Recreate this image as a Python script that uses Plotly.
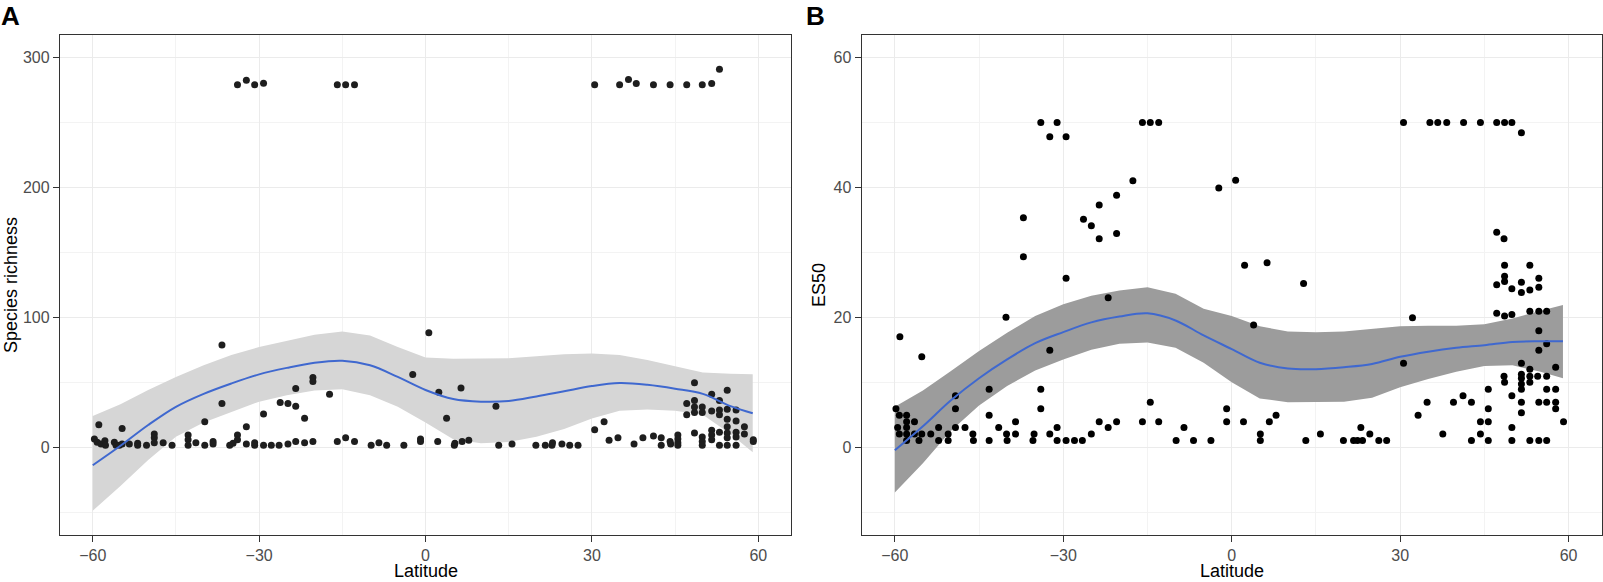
import plotly.graph_objects as go

# ---------------- data: panel A (species richness) ----------------
a_lat = [-33.9, -32.3, -30.8, -29.2, -15.9, -14.4, -12.8, 30.5, 35.0, 36.6, 38.0, 41.1, 44.1, 47.1, 49.9, 51.6, 53.0,
         -59.7, -58.9, -59.2, -58.5, -57.8, -57.7, -56.1, -55.8, -55.2, -54.7, -54.7, -53.4, -51.9, -51.9, -50.3,
         -48.9, -48.9, -48.9, -47.3, -45.7, -42.8, -42.8, -42.8, -41.4, -39.8, -39.8, -38.3, -38.3, -36.7, -36.7,
         -35.3, -34.7, -33.9, -33.9, -32.3, -32.3, -30.8, -30.8, -29.2, -29.2, -27.8, -26.4, -26.2, -24.8, -24.8,
         -23.4, -23.4, -23.4, -21.8, -21.8, -20.3, -20.3, -20.3, -17.3, -15.9, -14.4, -12.8, -9.8, -8.4, -7.0,
         -3.9, -2.3, -0.9, -0.9, 0.6, 2.2, 2.4, 3.8, 5.2, 5.3, 6.4, 6.6, 7.8, 12.7, 13.2, 15.6, 19.9, 21.6, 22.8,
         22.9, 24.6, 26.0, 27.5, 30.5, 32.2, 33.1, 34.7, 37.6, 39.2, 41.1, 42.5, 42.5, 44.1, 44.2, 45.5, 45.5,
         45.5, 45.5, 47.1, 47.1, 48.5, 48.5, 48.5, 48.5, 48.5, 49.9, 49.9, 49.9, 49.9, 49.9, 51.6, 51.6, 51.6,
         51.6, 51.6, 53.0, 53.0, 53.0, 53.0, 53.0, 54.4, 54.4, 54.4, 54.4, 54.4, 54.4, 54.4, 56.0, 56.0, 56.0,
         56.0, 56.0, 57.5, 57.5, 59.1, 59.1]
a_rich = [279, 282.4, 279, 280.2, 279, 279, 279, 279, 279, 283, 280, 279, 279, 279, 279, 280, 291,
          6.3, 17.2, 3.7, 2.3, 4.9, 1.4, 3.7, 1.4, 1.4, 14.3, 2.3, 2.3, 2.9, 1.4, 1.4,
          10.0, 7.2, 3.4, 3.4, 1.4, 9.4, 5.7, 1.4, 3.4, 19.5, 1.4, 4.3, 2.3, 78.7, 33.5,
          1.4, 2.9, 9.4, 5.7, 15.7, 2.3, 3.4, 1.4, 25.5, 1.4, 1.4, 1.4, 34.3, 33.5, 2.3,
          45.2, 31.5, 4.3, 22.3, 3.4, 53.5, 50.6, 4.3, 40.6, 4.3, 7.2, 4.3, 1.4, 3.4, 1.4,
          1.4, 55.8, 6.3, 4.3, 88.1, 4.3, 42.3, 22.3, 1.4, 2.9, 45.5, 4.3, 5.2, 31.5, 1.4, 2.3, 1.4, 1.4, 1.4,
          3.4, 2.3, 1.4, 1.4, 13.4, 19.5, 5.2, 7.2, 2.3, 7.2, 8.6, 7.2, 1.4, 4.3, 2.3, 9.4, 6.3,
          3.4, 1.4, 33.5, 24.9, 49.5, 35.8, 30.9, 26.6, 10.9, 30.9, 26.6, 7.7, 4.3, 1.4, 40.6, 27.8, 12.9,
          9.4, 5.7, 35.8, 28.6, 24.9, 11.4, 1.4, 43.8, 29.2, 21.5, 15.7, 10.9, 7.2, 1.4, 28.6, 20.0, 11.4,
          7.7, 1.4, 15.7, 10.0, 5.7, 4.3]

a_fit_lat = [-60, -55, -50, -45, -40, -35, -30, -25, -20, -15, -10, -5, 0, 5, 10, 15, 20, 25, 30, 35, 40, 45, 50, 55, 59]
a_fit = [-14, 1, 17, 31, 41, 49, 56, 61, 65, 66.5, 63, 54, 44, 37, 35, 35.5, 39, 43, 47, 49.3, 48, 45, 41, 31.5, 26]
a_hi = [24, 33, 44, 54, 63, 71, 77, 82, 86.5, 89, 86, 77, 69, 68, 68, 68.5, 70, 71.5, 72, 71, 67, 62, 57.5, 56.5, 56]
a_lo = [-49, -30, -10, 8, 19, 27, 35, 40, 43.5, 44.5, 40, 31, 19, 6, 3, 4, 8, 14, 22, 28, 29, 28, 25, 10, -4]

# ---------------- data: panel B (ES50) ----------------
b_lat = [-59.8, -59.1, -59.2, -59.5, -59.2, -57.9, -57.9, -57.9, -57.9, -57.9, -56.5, -56.5, -55.2, -55.2, -55.7,
         -53.6, -52.2, -52.2, -50.5, -50.5, -49.2, -49.2, -49.2, -47.5, -46.1, -46.0, -43.2, -43.2, -43.2, -41.5,
         -40.2, -40.1, -40.0, -38.5, -38.5, -37.1, -37.1, -35.4, -35.2, -34.0, -34.0, -34.0, -32.4, -32.4, -32.4,
         -31.1, -31.1, -31.1, -29.5, -29.5, -29.5, -28.0, -26.6, -26.4, -25.0, -25.0, -23.6, -23.6, -23.6, -22.0,
         -22.0, -20.5, -20.5, -20.5, -17.6, -15.9, -15.9, -14.5, -14.5, -13.0, -13.0, -9.9, -8.5, -6.8,
         -3.7, -2.3, -0.9, -0.9, 0.7, 2.1, 2.3, 3.9, 5.1, 5.1, 6.3, 6.7, 7.9, 12.8, 13.2, 15.8, 19.9, 21.7, 22.4,
         23.3, 23.0, 24.6, 26.2, 27.6, 30.6, 30.6, 32.2, 33.2, 34.8, 35.3, 36.7, 37.6, 38.3, 39.5, 41.2, 41.3,
         42.7, 42.7, 44.3, 44.3, 44.3, 45.7, 45.7, 45.7, 45.7, 47.2, 47.2, 47.2, 47.2, 48.5, 48.6, 48.6, 48.6,
         48.6, 48.5, 48.6, 48.6, 49.9, 49.9, 49.9, 49.9, 49.9, 49.9, 51.6, 51.6, 51.6, 51.6, 51.6, 51.6, 51.6,
         51.6, 51.6, 51.6, 53.1, 53.1, 53.1, 53.1, 53.1, 53.1, 53.1, 54.7, 54.7, 54.7, 54.7, 54.5, 54.7, 54.7,
         54.7, 56.1, 56.1, 56.1, 56.1, 56.1, 56.1, 57.7, 57.7, 57.7, 57.7, 59.1, 59.1]
b_es50 = [5.9, 17.0, 4.9, 3.0, 2.0, 4.9, 3.9, 3.0, 2.0, 1.0, 3.9, 2.0, 13.9, 2.0, 1.0,
          2.0, 3.0, 1.0, 2.0, 1.0, 7.9, 5.9, 3.0, 3.0, 2.0, 1.0, 8.9, 4.9, 1.0, 3.0,
          20.0, 2.0, 1.0, 3.9, 2.0, 35.3, 29.3, 1.0, 2.0, 50.0, 8.9, 5.9, 47.8, 14.9, 2.0,
          50.0, 3.0, 1.0, 47.8, 26.0, 1.0, 1.0, 1.0, 35.1, 34.1, 2.0, 37.3, 32.1, 3.9, 23.0,
          3.0, 38.8, 32.9, 3.9, 41.0, 50.0, 3.9, 50.0, 6.9, 50.0, 3.9, 1.0, 3.0, 1.0,
          1.0, 39.9, 5.9, 3.9, 41.1, 3.9, 28.0, 18.8, 2.0, 1.0, 28.4, 3.9, 4.9, 25.2, 1.0, 2.0, 1.0, 1.0, 1.0,
          1.0, 3.0, 2.0, 1.0, 1.0, 50.0, 12.9, 19.9, 4.9, 6.9, 50.0, 50.0, 2.0, 50.0, 6.9, 7.9, 50.0,
          6.9, 1.0, 50.0, 3.9, 2.0, 8.9, 5.9, 3.9, 1.0, 50.0, 33.1, 25.0, 20.6, 32.1, 28.0, 26.3, 25.5,
          20.2, 10.9, 10.0, 50.0, 24.4, 20.4, 7.9, 3.0, 1.0, 50.0, 25.4, 23.8, 12.9, 11.2, 10.6, 9.7,
          8.9, 6.9, 5.3, 48.4, 24.2, 20.9, 12.0, 10.9, 10.0, 1.0, 28.0, 24.6, 20.9, 17.9, 14.9, 10.9, 6.9,
          1.0, 26.0, 20.9, 10.9, 8.9, 6.9, 1.0, 15.9, 12.3, 8.9, 6.9, 5.9, 3.9]

b_fit_lat = [-60, -55, -50, -45, -40, -35, -30, -25, -20, -15, -10, -5, 0, 5, 10, 15, 20, 25, 30, 35, 40, 45, 50, 55, 59]
b_fit = [-0.5, 3.2, 7.2, 10.6, 13.5, 16, 17.7, 19.2, 20.1, 20.6, 19.5, 17.2, 15.1, 13, 12.1, 12, 12.3, 12.8, 13.9, 14.7, 15.3, 15.7, 16.2, 16.3, 16.3]
b_hi = [6.2, 8.7, 11.7, 14.8, 17.6, 20.2, 22, 23.3, 24.1, 24.6, 23.6, 21.3, 20.2, 18.6, 17.8, 17.7, 17.8, 18.2, 18.6, 18.7, 18.7, 18.9, 19.8, 21, 21.9]
b_lo = [-7, -2.5, 2.5, 6.4, 9.4, 11.8, 13.5, 15, 15.9, 16.1, 15.3, 13, 10, 7.5, 6.9, 6.9, 7, 7.6, 9.2, 10.5, 11.6, 12.5, 12.6, 11.6, 10.6]

x_ticks = [-60, -30, 0, 30, 60]
a_y_ticks = [0, 100, 200, 300]
b_y_ticks = [0, 20, 40, 60]

# ---------------- styling ----------------
W, H = 1603, 582
FONT = "Liberation Sans, Arial, sans-serif"
LINE_BLUE = "#3F68CF"
GRID = "#EBEBEB"
BORDER = "#333333"
TICKFONT = dict(family=FONT, size=16, color="#4D4D4D")

fig = go.Figure()

def add_panel(xa, ya, lat, val, flat, fit, lo, hi, ribbon_color, pt_color):
    fig.add_trace(go.Scatter(x=flat, y=lo, mode="lines", line=dict(width=0, color=ribbon_color),
                             xaxis=xa, yaxis=ya, hoverinfo="skip", showlegend=False))
    fig.add_trace(go.Scatter(x=flat, y=hi, mode="lines", line=dict(width=0, color=ribbon_color),
                             fill="tonexty", fillcolor=ribbon_color,
                             xaxis=xa, yaxis=ya, hoverinfo="skip", showlegend=False))
    fig.add_trace(go.Scatter(x=lat, y=val, mode="markers",
                             marker=dict(size=7, color=pt_color, line=dict(width=0)),
                             xaxis=xa, yaxis=ya, showlegend=False))
    fig.add_trace(go.Scatter(x=flat, y=fit, mode="lines", line=dict(width=2, color=LINE_BLUE, shape="spline"),
                             xaxis=xa, yaxis=ya, showlegend=False))

add_panel("x", "y", a_lat, a_rich, a_fit_lat, a_fit, a_lo, a_hi, "#D6D6D6", "#1E1E1E")
add_panel("x2", "y2", b_lat, b_es50, b_fit_lat, b_fit, b_lo, b_hi, "#9C9C9C", "#000000")

ydom = [1 - 534.5 / H, 1 - 35 / H]

def xaxis(dom, anchor):
    return dict(domain=dom, anchor=anchor, range=[-65.9, 65.9], tickvals=x_ticks,
                ticks="outside", ticklen=6, tickcolor=BORDER, tickwidth=1,
                showgrid=True, gridcolor=GRID, gridwidth=1.1,
                minor=dict(dtick=15, tick0=-60, showgrid=True, gridcolor="#F3F3F3", gridwidth=1, ticks=""),
                showline=True, linecolor=BORDER, linewidth=1.3, mirror=True,
                zeroline=False, tickfont=TICKFONT)

def yaxis(anchor, rng, tv, minor_dt):
    return dict(domain=ydom, anchor=anchor, range=rng, tickvals=tv,
                ticks="outside", ticklen=6, tickcolor=BORDER, tickwidth=1,
                showgrid=True, gridcolor=GRID, gridwidth=1.1,
                minor=dict(dtick=minor_dt, tick0=0, showgrid=True, gridcolor="#F3F3F3", gridwidth=1, ticks=""),
                showline=True, linecolor=BORDER, linewidth=1.3, mirror=True,
                zeroline=False, tickfont=TICKFONT)

fig.update_layout(
    width=W, height=H,
    margin=dict(l=0, r=0, t=0, b=0),
    paper_bgcolor="white", plot_bgcolor="white",
    showlegend=False,
    font=dict(family=FONT),
    xaxis=xaxis([60 / W, 791 / W], "y"),
    yaxis=yaxis("x", [-67.3, 317.3], a_y_ticks, 50),
    xaxis2=xaxis([861.7 / W, 1601.7 / W], "y2"),
    yaxis2=yaxis("x2", [-13.46, 63.46], b_y_ticks, 10),
)

ann_font = dict(family=FONT, size=18, color="black")
fig.add_annotation(text="Latitude", x=(60 + 791) / 2 / W, y=0, xref="paper", yref="paper",
                   showarrow=False, font=ann_font, xanchor="center", yanchor="bottom", borderpad=0)
fig.add_annotation(text="Latitude", x=(861.7 + 1601.7) / 2 / W, y=0, xref="paper", yref="paper",
                   showarrow=False, font=ann_font, xanchor="center", yanchor="bottom", borderpad=0)
fig.add_annotation(text="Species richness", x=11 / W, y=1 - 285 / H, xref="paper", yref="paper",
                   showarrow=False, font=ann_font, textangle=-90, xanchor="center", yanchor="middle")
fig.add_annotation(text="ES50", x=819 / W, y=1 - 285 / H, xref="paper", yref="paper",
                   showarrow=False, font=ann_font, textangle=-90, xanchor="center", yanchor="middle")
lab_font = dict(family=FONT, size=26, color="black")
fig.add_annotation(text="<b>A</b>", x=0 / W, y=1 - 16 / H, xref="paper", yref="paper",
                   showarrow=False, font=lab_font, xanchor="left", yanchor="middle", borderpad=0)
fig.add_annotation(text="<b>B</b>", x=805 / W, y=1 - 16 / H, xref="paper", yref="paper",
                   showarrow=False, font=lab_font, xanchor="left", yanchor="middle", borderpad=0)

fig.write_html(
    "out.html",
    config={"displayModeBar": False},
    post_script="document.body.style.margin='0';document.body.style.padding='0';"
                "document.body.style.overflow='hidden';",
)
